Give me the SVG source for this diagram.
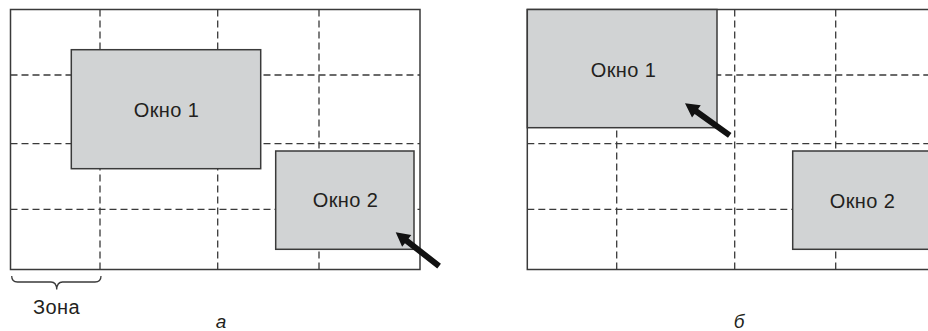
<svg xmlns="http://www.w3.org/2000/svg" width="928" height="331" viewBox="0 0 928 331">
<style>
.frame{fill:#fff;stroke:#3a3a3a;stroke-width:1.5}
.grid{stroke:#3a3a3a;stroke-width:1.3;stroke-dasharray:7 4;fill:none}
.win{fill:#d1d3d4;stroke:#3a3a3a;stroke-width:1.5}
.lbl{font-family:"Liberation Sans",Arial,sans-serif;font-size:20px;letter-spacing:0.4px;fill:#231f20;text-anchor:middle}
.cap{font-family:"Liberation Sans",Arial,sans-serif;font-size:19px;font-style:italic;fill:#231f20;text-anchor:middle}
.ptr{fill:#111}
</style>
<defs>
<path id="arrow" d="M0,0 L14,-7.5 L14,-3 L55,-3 L55,3 L14,3 L14,7.5 Z"/>
</defs>
<g id="panel-a">
<rect class="frame" x="10.5" y="9.5" width="409.5" height="260"/>
<g class="grid">
<line x1="100" y1="9.5" x2="100" y2="269.5"/>
<line x1="217.7" y1="9.5" x2="217.7" y2="269.5"/>
<line x1="319" y1="9.5" x2="319" y2="269.5"/>
<line x1="10.5" y1="75" x2="420" y2="75"/>
<line x1="10.5" y1="143.7" x2="420" y2="143.7"/>
<line x1="10.5" y1="209.3" x2="420" y2="209.3"/>
</g>
<g id="a-window1">
<rect class="win" x="71.3" y="49.7" width="189.4" height="119"/>
<text class="lbl" x="166.5" y="117">Окно 1</text>
</g>
<g id="a-window2">
<rect class="win" x="275.7" y="151" width="138.3" height="98.3"/>
<text class="lbl" x="345.5" y="207">Окно 2</text>
</g>
<g id="zone">
<path d="M11.7,276 Q11.7,282 17.5,282 L51,282 Q56.5,282 56.7,289.5 Q57,282 62.5,282 L95,282 Q101,282 101,276" fill="none" stroke="#3a3a3a" stroke-width="1.3"/>
<text class="lbl" x="56.5" y="313.5">Зона</text>
</g>
<text class="cap" x="221" y="327.5">а</text>
</g>
<g id="panel-b">
<rect class="frame" x="527.3" y="9.5" width="410" height="260"/>
<g class="grid">
<line x1="616.7" y1="9.5" x2="616.7" y2="269.5"/>
<line x1="734.7" y1="9.5" x2="734.7" y2="269.5"/>
<line x1="835.7" y1="9.5" x2="835.7" y2="269.5"/>
<line x1="527.3" y1="75" x2="937" y2="75"/>
<line x1="527.3" y1="143.7" x2="937" y2="143.7"/>
<line x1="527.3" y1="209.3" x2="937" y2="209.3"/>
</g>
<g id="b-window1">
<rect class="win" x="527.3" y="9.5" width="189.7" height="118.2"/>
<text class="lbl" x="623.5" y="77">Окно 1</text>
</g>
<g id="b-window2">
<rect class="win" x="792.7" y="151" width="150" height="98.3"/>
<text class="lbl" x="862.5" y="207.5">Окно 2</text>
</g>
<text class="cap" x="739" y="327.5">б</text>
</g>
<g id="connectors">
<use href="#arrow" class="ptr" transform="translate(395.7,232.3) rotate(37.9)"/>
<use href="#arrow" class="ptr" transform="translate(685,103.3) rotate(35.6)"/>
</g>
</svg>
